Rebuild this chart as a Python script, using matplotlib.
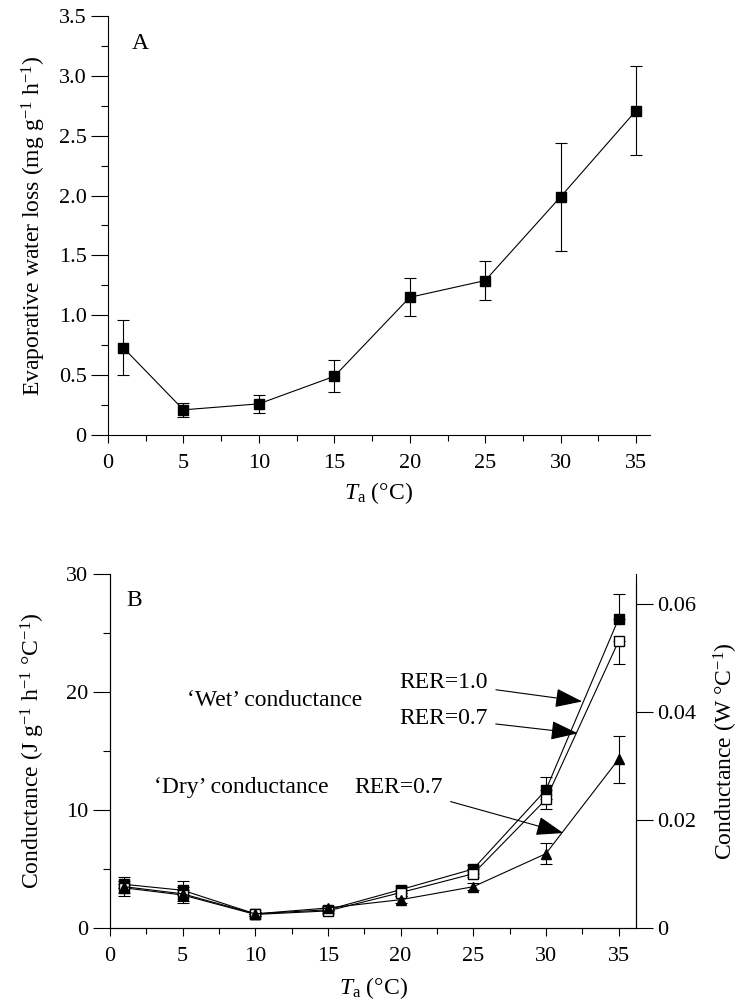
import matplotlib
matplotlib.use("Agg")
import matplotlib.pyplot as plt
from matplotlib.ticker import MultipleLocator
import numpy as np

plt.rcParams['font.family'] = ['Liberation Serif', 'DejaVu Serif']
plt.rcParams['mathtext.fontset'] = 'custom'
plt.rcParams['mathtext.rm'] = 'Liberation Serif'
plt.rcParams['mathtext.it'] = 'Liberation Serif:italic'
plt.rcParams['font.size'] = 16

# Panel A: evaporative water loss
ta = [1, 5, 10, 15, 20, 25, 30, 35]
ewl = [0.73, 0.21, 0.26, 0.49, 1.15, 1.29, 1.99, 2.71]
ewl_err = [0.23, 0.057, 0.075, 0.135, 0.16, 0.165, 0.45, 0.375]

# Panel B: conductance (J g-1 h-1 °C-1)
wet_10 = [3.7, 3.2, 1.2, 1.55, 3.25, 5.0, 11.7, 26.2]
wet_10_err = [0.6, 0.8, 0.15, 0.2, 0.3, 0.3, 1.1, 2.1]
wet_07 = [3.4, 2.8, 1.15, 1.45, 3.0, 4.6, 10.9, 24.3]
wet_07_err = [0.7, 0.7, 0.15, 0.2, 0.3, 0.3, 0.8, 1.95]
dry_07 = [3.5, 2.9, 1.2, 1.7, 2.4, 3.5, 6.3, 14.3]
dry_07_err = [0.5, 0.6, 0.15, 0.2, 0.3, 0.3, 0.9, 2.0]

# J g-1 h-1 °C-1 per W °C-1
conv = 457.0

LABEL_FS = 17
TEXT_FS = 17

fig = plt.figure(figsize=(7.42, 10.05), dpi=100)


def style_ticks(ax, ymaj, ymin):
    ax.xaxis.set_major_locator(MultipleLocator(5))
    ax.xaxis.set_minor_locator(MultipleLocator(2.5))
    ax.yaxis.set_major_locator(MultipleLocator(ymaj))
    ax.yaxis.set_minor_locator(MultipleLocator(ymin))
    ax.tick_params(axis='y', which='major', direction='out', length=12, width=0.8)
    ax.tick_params(axis='y', which='minor', direction='out', length=5, width=0.8)
    ax.tick_params(axis='x', which='major', direction='out', length=6, width=0.8, pad=8)
    ax.tick_params(axis='x', which='minor', direction='out', length=4, width=0.8)
    for s in ax.spines.values():
        s.set_linewidth(0.8)


# ---------------- Panel A ----------------
axA = fig.add_axes([0.1456, 0.5672, 0.730, 0.4169])
axA.errorbar(ta, ewl, yerr=ewl_err, color='k', lw=0.8, marker='s', ms=7.5,
             elinewidth=0.8, capsize=4, capthick=0.8)
axA.set_xlim(0, 35.9)
axA.set_ylim(0, 3.5)
axA.spines['top'].set_visible(False)
axA.spines['right'].set_visible(False)
style_ticks(axA, 0.5, 0.25)
axA.yaxis.set_major_formatter(plt.FuncFormatter(lambda v, p: '0' if v == 0 else f'{v:.1f}'))
axA.set_xlabel(r'$T_\mathrm{a}$ (°C)', fontsize=LABEL_FS, labelpad=5)
axA.set_ylabel(r'Evaporative water loss (mg g$^{-1}$ h$^{-1}$)', fontsize=LABEL_FS, labelpad=8)
axA.text(1.6, 3.27, 'A', fontsize=TEXT_FS, va='center')

# ---------------- Panel B ----------------
axB = fig.add_axes([0.1482, 0.0766, 0.7089, 0.3522])
axB.errorbar(ta, wet_10, yerr=[np.zeros(len(ta)), wet_10_err], color='k', lw=0.8,
             marker='s', ms=6.5, mfc='k', elinewidth=0.8, capsize=4, capthick=0.8)
axB.errorbar(ta, wet_07, yerr=[wet_07_err, np.zeros(len(ta))], color='k', lw=0.8,
             marker='s', ms=6.5, mfc='white', elinewidth=0.8, capsize=4, capthick=0.8)
axB.errorbar(ta, dry_07, yerr=dry_07_err, color='k', lw=0.8,
             marker='^', ms=6.5, mfc='k', elinewidth=0.8, capsize=4, capthick=0.8)
axB.set_xlim(0, 36.2)
axB.set_ylim(0, 30)
axB.spines['top'].set_visible(False)
style_ticks(axB, 10, 5)
axB.set_xlabel(r'$T_\mathrm{a}$ (°C)', fontsize=LABEL_FS, labelpad=6)
axB.set_ylabel(r'Conductance (J g$^{-1}$ h$^{-1}$ °C$^{-1}$)', fontsize=LABEL_FS, labelpad=14)
axB.text(1.1, 27.8, 'B', fontsize=TEXT_FS, va='center')

axR = axB.twinx()
axR.set_ylim(0, 30 / conv)
axR.spines['top'].set_visible(False)
axR.spines['right'].set_bounds(0, 29.2 / conv)
axR.yaxis.set_major_locator(MultipleLocator(0.02))
axR.yaxis.set_major_formatter(plt.FuncFormatter(lambda v, p: '0' if v == 0 else f'{v:.2f}'))
axR.tick_params(axis='y', direction='out', length=12, width=0.8)
axR.spines['right'].set_linewidth(0.8)
axR.set_ylabel(r'Conductance (W °C$^{-1}$)', fontsize=LABEL_FS, labelpad=11)

axB.text(5.3, 19.3, '‘Wet’ conductance', fontsize=TEXT_FS, va='center')
axB.text(3.0, 11.95, '‘Dry’ conductance', fontsize=TEXT_FS, va='center')

arrow = dict(arrowstyle='-|>,head_length=1.0,head_width=0.35', color='k', lw=0.8,
             shrinkA=4, shrinkB=0)
axB.annotate('RER=1.0', xy=(32.5, 19.2), xytext=(19.9, 20.8), fontsize=TEXT_FS,
             va='center', arrowprops=arrow)
axB.annotate('RER=0.7', xy=(32.2, 16.5), xytext=(19.9, 17.8), fontsize=TEXT_FS,
             va='center', arrowprops=arrow)
axB.annotate('RER=0.7', xy=(31.2, 8.05), xytext=(16.8, 11.95), fontsize=TEXT_FS,
             va='center', arrowprops=arrow)

fig.savefig('out.png', dpi=100)
